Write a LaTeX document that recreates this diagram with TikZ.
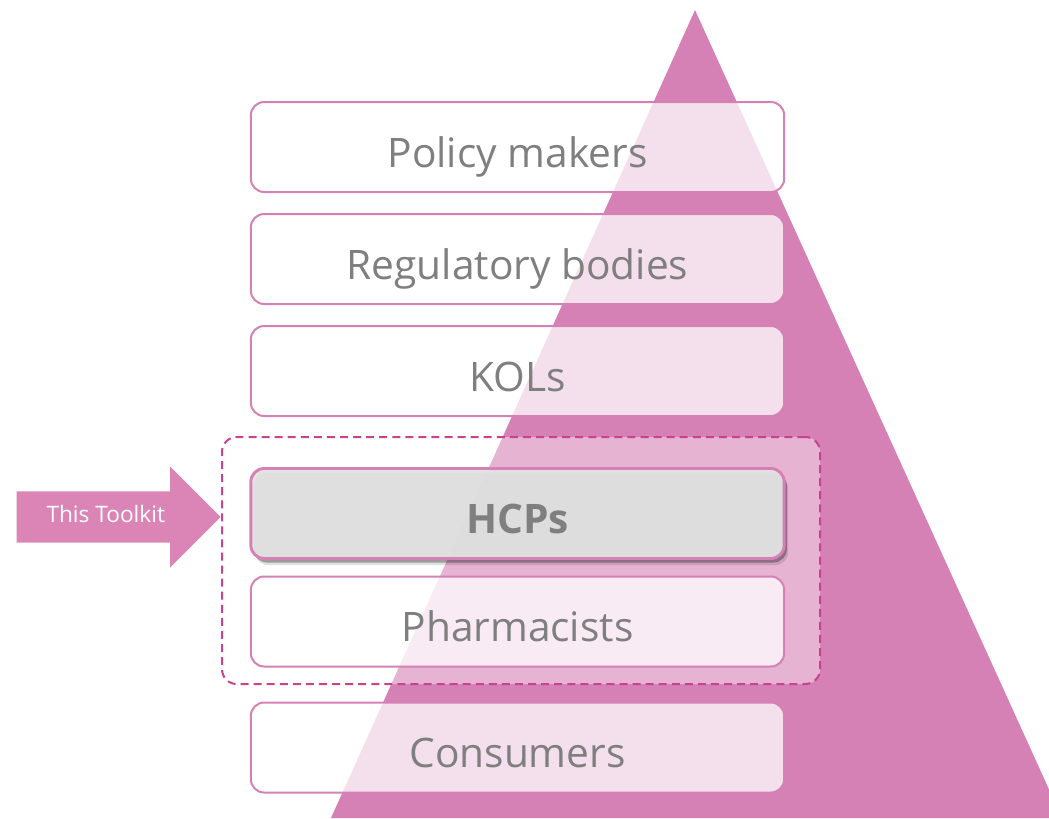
\documentclass[tikz,border=0pt]{standalone}
\usepackage{fontspec}
\setmainfont{Open Sans}
\usetikzlibrary{shapes.arrows,shadows}
\pgfdeclarelayer{bg}
\pgfsetlayers{bg,main}
\definecolor{pyr}{HTML}{D681B5}
\definecolor{arr}{HTML}{DA85B6}
\definecolor{dash}{HTML}{C9428E}
\definecolor{txt}{HTML}{7F7F7F}
\definecolor{hcpgrey}{HTML}{E2E2E2}
\tikzstyle{tier}=[draw=pyr, line width=1.5pt, fill=white, fill opacity=0.75, text opacity=1, rounded corners=10pt, minimum width=400pt, minimum height=67.5pt, text=txt, text height=30pt, text depth=0pt, font=\fontsize{30.5}{36}\selectfont]
\tikzstyle{focus}=[tier, fill=hcpgrey, fill opacity=0.96, line width=2.2pt, font=\fontsize{30.5}{36}\selectfont\bfseries, general shadow={shadow xshift=3pt, shadow yshift=-5pt, fill=black, opacity=0.12}, general shadow={shadow xshift=2pt, shadow yshift=-3pt, fill=black, opacity=0.3}]
\tikzstyle{group}=[draw=dash, line width=1.5pt, dash pattern=on 6pt off 3.8pt, fill=white, fill opacity=0.4, rounded corners=11pt, minimum width=448.5pt, minimum height=185.25pt]
\tikzstyle{pointer}=[single arrow, fill=arr, text=white, font=\fontsize{17}{20}\selectfont, text height=12.5pt, text depth=3.5pt, inner ysep=11pt, inner xsep=2pt, minimum height=153pt, single arrow head extend=18.75pt, single arrow head indent=0pt, anchor=tip]

\begin{document}
\begin{tikzpicture}[x=0.75pt, y=-0.75pt]
    \useasboundingbox (0, 0) rectangle (1049, 818);

    \begin{pgfonlayer}{bg}
        \begin{scope}
            \clip (0, 0) rectangle (1049, 818);
            \fill [pyr] (695, 10) -- (1062, 818) -- (331, 818) -- cycle;
        \end{scope}
    \end{pgfonlayer}

    \node [group] (kit) at (521, 560.5) {};

    \node [tier] (policy) at (517.5, 147) {Policy makers};
    \node [tier] (reg) at (517.5, 259) {Regulatory bodies};
    \node [tier] (kol) at (517.5, 371) {KOLs};
    \node [focus] (hcp) at (517.5, 513.5) {HCPs};
    \node [tier] (pharm) at (517.5, 621.5) {Pharmacists};
    \node [tier] (cons) at (517.5, 747.5) {Consumers};

    \node [pointer, yshift=-2.6pt] (tool) at (kit.west |- hcp) {This Toolkit};
  \end{tikzpicture}
\end{document}
